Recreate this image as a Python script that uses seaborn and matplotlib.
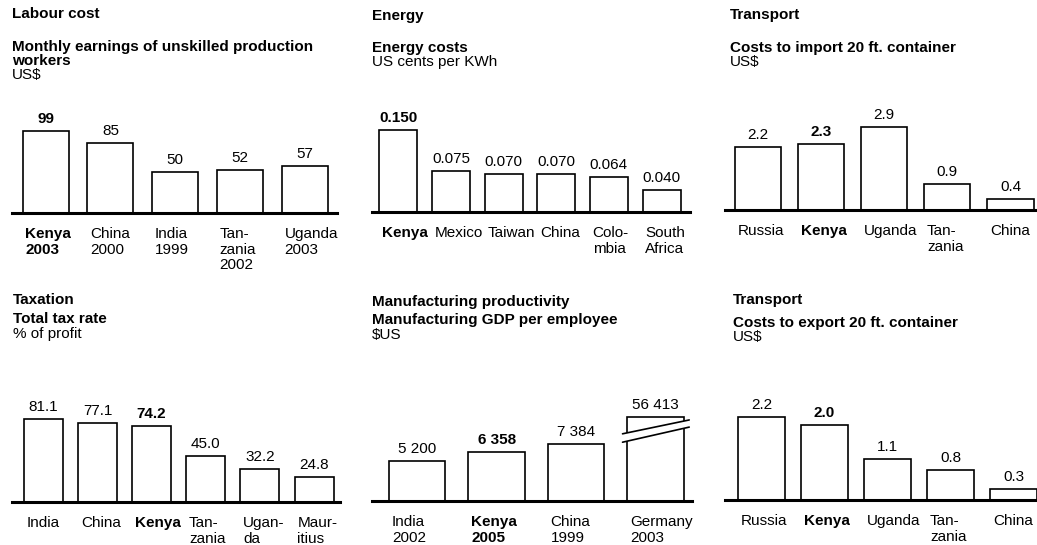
import matplotlib
matplotlib.use("Agg")
import matplotlib.pyplot as plt
import seaborn as sns
from matplotlib.patches import Polygon

sns.set_theme(style="white")
plt.rcParams["font.family"] = ["Liberation Sans", "DejaVu Sans"]

# ---------------------------------------------------------------- data
labour_cats = ["Kenya\n2003", "China\n2000", "India\n1999", "Tan-\nzania\n2002", "Uganda\n2003"]
labour_vals = [99, 85, 50, 52, 57]

energy_cats = ["Kenya", "Mexico", "Taiwan", "China", "Colo-\nmbia", "South\nAfrica"]
energy_vals = [0.150, 0.075, 0.070, 0.070, 0.064, 0.040]

import_cats = ["Russia", "Kenya", "Uganda", "Tan-\nzania", "China"]
import_vals = [2.2, 2.3, 2.9, 0.9, 0.4]

tax_cats = ["India", "China", "Kenya", "Tan-\nzania", "Ugan-\nda", "Maur-\nitius"]
tax_vals = [81.1, 77.1, 74.2, 45.0, 32.2, 24.8]

mfg_cats = ["India\n2002", "Kenya\n2005", "China\n1999", "Germany\n2003"]
mfg_vals = [5200, 6358, 7384, 56413]

export_cats = ["Russia", "Kenya", "Uganda", "Tan-\nzania", "China"]
export_vals = [2.2, 2.0, 1.1, 0.8, 0.3]

HIGHLIGHT = "Kenya"

# ---------------------------------------------------------------- layout
W, H = 1037, 545
FS = 11
fig = plt.figure(figsize=(W / 100, H / 100), dpi=100)
fig.patch.set_facecolor("white")


def fx(px):
    return px / W


def fy(py):
    return 1 - py / H


def space_thousands(v):
    return f"{v:,.0f}".replace(",", " ")


def panel(cats, vals, fmt, x0, x1, base, xlim, ymax, width,
          headers, cap=None):
    """Draw one bar panel; headers = [(text, x, y, bold), ...] in pixels."""
    height_px = 110
    ax = fig.add_axes([fx(x0), fy(base), fx(x1) - fx(x0), height_px / H])
    shown = [min(v, cap) if cap else v for v in vals]
    sns.barplot(x=list(range(len(cats))), y=shown, ax=ax, color="white",
                edgecolor="black", linewidth=1.2, width=width,
                saturation=1, native_scale=True, zorder=2)
    ax.set_xlim(*xlim)
    ax.set_ylim(0, ymax)
    ax.set_facecolor("white")
    for s in ("top", "right", "left"):
        ax.spines[s].set_visible(False)
    ax.spines["bottom"].set_linewidth(2.2)
    ax.spines["bottom"].set_color("black")
    ax.spines["bottom"].set_zorder(3)
    ax.set_xticks([])
    ax.set_yticks([])
    ax.set_xlabel("")
    ax.set_ylabel("")

    for i, (c, v, h) in enumerate(zip(cats, vals, shown)):
        bold = c.startswith(HIGHLIGHT)
        wt = "bold" if bold else "normal"
        ax.annotate(fmt(v), xy=(i, h), xytext=(0, 3.5),
                    textcoords="offset points", ha="center", va="bottom",
                    fontsize=FS, fontweight=wt, color="black",
                    annotation_clip=False)
        ax.annotate(c, xy=(i - width / 2, 0), xytext=(2, -10),
                    textcoords="offset points", ha="left", va="top",
                    fontsize=FS, fontweight=wt, color="black",
                    linespacing=1.15, annotation_clip=False)

    for text, tx, ty, bold in headers:
        fig.text(fx(tx), fy(ty), text, fontsize=FS, ha="left", va="center",
                 fontweight="bold" if bold else "normal", color="black")
    return ax, shown


# Labour cost
panel(labour_cats, labour_vals, lambda v: f"{v:.0f}",
      12, 337, 213, (-0.52, 4.5), 132.8, 0.71,
      [("Labour cost", 12, 14, True),
       ("Monthly earnings of unskilled production", 12, 47, True),
       ("workers", 12, 61, True),
       ("US$", 12, 75, False)])

# Energy
panel(energy_cats, energy_vals, lambda v: f"{v:.3f}",
      372, 690, 212, (-0.5, 5.54), 0.2012, 0.72,
      [("Energy", 372, 16, True),
       ("Energy costs", 372, 48, True),
       ("US cents per KWh", 372, 62, False)])

# Transport – import
panel(import_cats, import_vals, lambda v: f"{v:.1f}",
      725, 1037, 210, (-0.52, 4.42), 3.84, 0.73,
      [("Transport", 730, 15, True),
       ("Costs to import 20 ft. container", 730, 48, True),
       ("US$", 730, 62, False)])

# Taxation
panel(tax_cats, tax_vals, lambda v: f"{v:.1f}",
      12, 340, 502, (-0.58, 5.48), 107.5, 0.72,
      [("Taxation", 13, 300, True),
       ("Total tax rate", 13, 319, True),
       ("% of profit", 13, 334, False)])

# Manufacturing productivity (Germany bar drawn with an axis break)
MFG_CAP = 10880
mfg_w = 0.71
ax5, shown5 = panel(mfg_cats, mfg_vals, space_thousands,
                    372, 692, 501, (-0.57, 3.46), 14250, mfg_w,
                    [("Manufacturing productivity", 372, 302, True),
                     ("Manufacturing GDP per employee", 372, 320, True),
                     ("$US", 372, 335, False)],
                    cap=MFG_CAP)
ib = len(mfg_vals) - 1
xl, xr = ib - mfg_w / 2 - 0.06, ib + mfg_w / 2 + 0.07
lo1, hi1 = MFG_CAP * 0.70, MFG_CAP * 0.88   # lower break line
lo2, hi2 = MFG_CAP * 0.80, MFG_CAP * 0.965  # upper break line
ax5.add_patch(Polygon([(xl, lo1), (xr, hi1), (xr, hi2), (xl, lo2)],
                      closed=True, facecolor="white", edgecolor="none",
                      zorder=4))
ax5.plot([xl, xr], [lo1, hi1], color="black", lw=1.2, zorder=5)
ax5.plot([xl, xr], [lo2, hi2], color="black", lw=1.2, zorder=5)

# Transport – export
panel(export_cats, export_vals, lambda v: f"{v:.1f}",
      725, 1037, 500, (-0.58, 4.37), 2.92, 0.74,
      [("Transport", 733, 300, True),
       ("Costs to export 20 ft. container", 733, 323, True),
       ("US$", 733, 337, False)])

fig.savefig("out.png", dpi=100, facecolor="white")
